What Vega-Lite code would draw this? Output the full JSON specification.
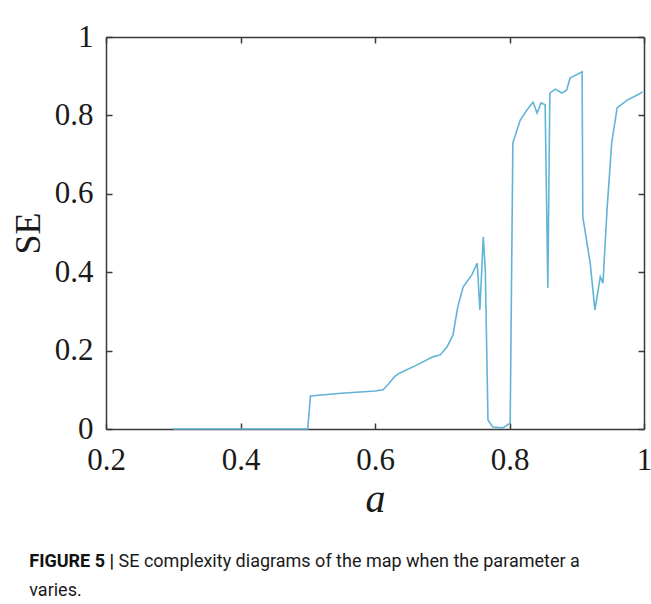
{
  "$schema": "https://vega.github.io/schema/vega-lite/v6.json",
  "width": 538,
  "height": 392,
  "autosize": {"type": "none"},
  "padding": {"left": 106, "top": 37, "right": 7, "bottom": 175},
  "background": "white",
  "config": {
    "view": {"stroke": null},
    "axis": {
      "grid": false,
      "domainColor": "#3a3a3a",
      "domainWidth": 1.5,
      "tickColor": "#3a3a3a",
      "tickWidth": 1.5,
      "tickSize": -6,
      "labelFont": "Liberation Serif",
      "labelFontSize": 31,
      "labelColor": "#1a1a1a",
      "labelFlush": false,
      "titleFont": "Liberation Serif",
      "titleFontWeight": "normal",
      "titleColor": "#1a1a1a"
    }
  },
  "title": {
    "text": "FIGURE 5 |",
    "orient": "bottom",
    "anchor": "start",
    "frame": "bounds",
    "font": "Roboto",
    "fontSize": 18,
    "fontWeight": "bold",
    "color": "#111111",
    "offset": 34,
    "dx": 19,
    "subtitle": ["\u200b\u00a0\u00a0\u00a0\u00a0\u00a0\u00a0\u00a0\u00a0\u00a0\u00a0\u00a0\u00a0\u00a0\u00a0\u00a0\u00a0\u00a0\u00a0\u00a0\u00a0SE complexity diagrams of the map when the parameter a", "varies."],
    "subtitleFont": "Roboto",
    "subtitleFontSize": 18,
    "subtitleFontWeight": "normal",
    "subtitleColor": "#1a1a1a",
    "subtitleLineHeight": 29,
    "subtitlePadding": -18
  },
  "data": {
    "values": [
      {"a": 0.300, "SE": 0.0},
      {"a": 0.400, "SE": 0.0},
      {"a": 0.500, "SE": 0.0},
      {"a": 0.504, "SE": 0.084},
      {"a": 0.550, "SE": 0.091},
      {"a": 0.600, "SE": 0.097},
      {"a": 0.612, "SE": 0.100},
      {"a": 0.620, "SE": 0.115},
      {"a": 0.630, "SE": 0.135},
      {"a": 0.637, "SE": 0.143},
      {"a": 0.662, "SE": 0.163},
      {"a": 0.686, "SE": 0.184},
      {"a": 0.697, "SE": 0.189},
      {"a": 0.707, "SE": 0.209},
      {"a": 0.716, "SE": 0.240},
      {"a": 0.723, "SE": 0.311},
      {"a": 0.731, "SE": 0.362},
      {"a": 0.744, "SE": 0.393},
      {"a": 0.752, "SE": 0.423},
      {"a": 0.756, "SE": 0.304},
      {"a": 0.761, "SE": 0.490},
      {"a": 0.764, "SE": 0.406},
      {"a": 0.768, "SE": 0.023},
      {"a": 0.775, "SE": 0.005},
      {"a": 0.790, "SE": 0.003},
      {"a": 0.801, "SE": 0.015},
      {"a": 0.805, "SE": 0.730},
      {"a": 0.816, "SE": 0.788},
      {"a": 0.826, "SE": 0.814},
      {"a": 0.835, "SE": 0.834},
      {"a": 0.841, "SE": 0.806},
      {"a": 0.847, "SE": 0.832},
      {"a": 0.853, "SE": 0.827},
      {"a": 0.857, "SE": 0.360},
      {"a": 0.860, "SE": 0.857},
      {"a": 0.868, "SE": 0.867},
      {"a": 0.878, "SE": 0.857},
      {"a": 0.885, "SE": 0.865},
      {"a": 0.890, "SE": 0.895},
      {"a": 0.908, "SE": 0.911},
      {"a": 0.909, "SE": 0.541},
      {"a": 0.920, "SE": 0.423},
      {"a": 0.927, "SE": 0.304},
      {"a": 0.935, "SE": 0.388},
      {"a": 0.939, "SE": 0.372},
      {"a": 0.945, "SE": 0.559},
      {"a": 0.952, "SE": 0.730},
      {"a": 0.960, "SE": 0.819},
      {"a": 0.975, "SE": 0.839},
      {"a": 0.990, "SE": 0.852},
      {"a": 0.998, "SE": 0.860}
    ]
  },
  "layer": [
    {
      "mark": {"type": "line", "color": "#62b3d8", "strokeWidth": 1.6},
      "encoding": {
        "x": {
          "field": "a", "type": "quantitative",
          "scale": {"domain": [0.2, 1], "nice": false, "zero": false},
          "axis": {"orient": "bottom", "values": [0.2, 0.4, 0.6, 0.8, 1], "format": "~g", "labelPadding": 22, "title": "a", "titleFontStyle": "italic", "titleFontSize": 40, "titlePadding": 4}
        },
        "y": {
          "field": "SE", "type": "quantitative",
          "scale": {"domain": [0, 1], "nice": false},
          "axis": {"orient": "left", "values": [0, 0.2, 0.4, 0.6, 0.8, 1], "format": "~g", "labelPadding": 19, "title": "SE", "titleFontSize": 36, "titlePadding": 7}
        }
      }
    },
    {
      "mark": {"type": "line", "strokeOpacity": 0},
      "encoding": {
        "x": {
          "field": "a", "type": "quantitative",
          "scale": {"domain": [0.2, 1], "nice": false, "zero": false},
          "axis": {"orient": "top", "values": [0.2, 0.4, 0.6, 0.8, 1], "labels": false, "title": null}
        },
        "y": {
          "field": "SE", "type": "quantitative",
          "scale": {"domain": [0, 1], "nice": false},
          "axis": {"orient": "right", "values": [0, 0.2, 0.4, 0.6, 0.8, 1], "labels": false, "title": null}
        }
      }
    }
  ],
  "resolve": {"axis": {"x": "independent", "y": "independent"}}
}
